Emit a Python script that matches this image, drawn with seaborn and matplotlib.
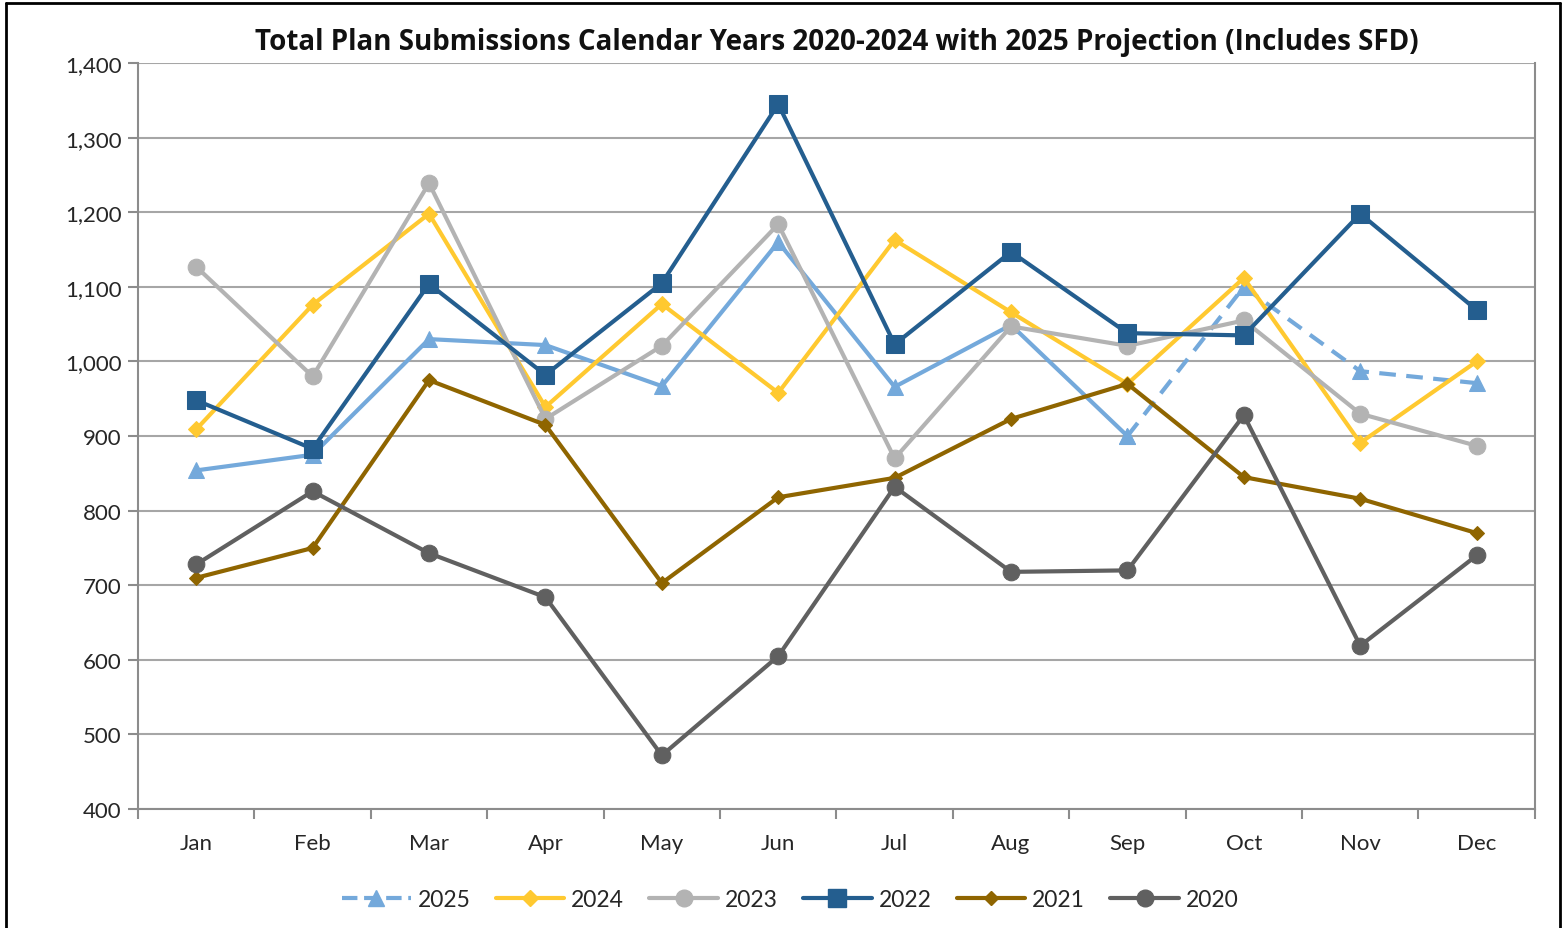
import numpy as np
import pandas as pd
import seaborn as sns
import matplotlib.pyplot as plt
from matplotlib.lines import Line2D

# datos
meses = ['Jan', 'Feb', 'Mar', 'Apr', 'May', 'Jun', 'Jul', 'Aug', 'Sep', 'Oct', 'Nov', 'Dec']
v2025 = [854, 875, 1030, 1022, 967, 1160, 966, 1049, 900, 1100, 987, 971]
v2024 = [909, 1076, 1198, 939, 1077, 958, 1163, 1066, 970, 1112, 891, 1000]
v2023 = [1127, 980, 1239, 923, 1021, 1184, 870, 1047, 1021, 1055, 930, 887]
v2022 = [948, 883, 1104, 982, 1105, 1345, 1023, 1147, 1038, 1035, 1198, 1069]
v2021 = [710, 750, 975, 915, 703, 818, 844, 923, 970, 845, 816, 770]
v2020 = [728, 826, 743, 684, 472, 605, 832, 718, 720, 928, 619, 740]
corte = 8  # ultimo mes real de 2025 (Sep), despues es proyeccion

sns.set_style('white')
plt.rcParams['font.family'] = ['Lato', 'DejaVu Sans']

fig = plt.figure(figsize=(15.63, 9.29), dpi=100)
ax = fig.add_axes([0.0883, 0.128, 0.8937, 0.803])

# estilos por serie: color, marcador, tamanio
estilos = {
    '2025': ('#74A9DB', '^', 11),
    '2024': ('#FFC930', 'D', 8),
    '2023': ('#B3B3B3', 'o', 12),
    '2022': ('#245E8F', 's', 13),
    '2021': ('#8F6500', 'D', 7.5),
    '2020': ('#606060', 'o', 12),
}
series = {'2025': v2025, '2024': v2024, '2023': v2023, '2022': v2022, '2021': v2021, '2020': v2020}

# 2025: parte real (solida) y proyeccion (punteada)
c, m, s = estilos['2025']
df_real = pd.DataFrame({'mes': meses[:corte + 1], 'valor': v2025[:corte + 1]})
df_proy = pd.DataFrame({'mes': meses[corte:], 'valor': v2025[corte:]})
sns.lineplot(data=df_real, x='mes', y='valor', color=c, marker=m, markersize=s,
             markeredgecolor=c, linewidth=3, ax=ax, zorder=3)
sns.lineplot(data=df_proy, x='mes', y='valor', color=c, marker=m, markersize=s,
             markeredgecolor=c, linewidth=3, dashes=[(4, 2.5)], style=[0] * len(df_proy),
             legend=False, ax=ax, zorder=3)

z = 4
for anio in ['2024', '2023', '2022', '2021', '2020']:
    c, m, s = estilos[anio]
    df = pd.DataFrame({'mes': meses, 'valor': series[anio]})
    sns.lineplot(data=df, x='mes', y='valor', color=c, marker=m, markersize=s,
                 markeredgecolor=c, linewidth=3, ax=ax, zorder=z)
    z += 1

ax.set_xlim(-0.5, 11.5)
ax.set_ylim(400, 1400)
ax.set_yticks(range(400, 1401, 100))
ax.set_yticklabels([f'{v:,}' for v in range(400, 1401, 100)])
ax.set_xticks(range(12))
ax.set_xticks(np.arange(-0.5, 12, 1), minor=True)
ax.set_xlabel('')
ax.set_ylabel('')
ax.grid(axis='y', color='#A6A6A6', linewidth=1.5)
ax.set_axisbelow(True)
for lado in ['left', 'bottom', 'right']:
    ax.spines[lado].set_color('#8C8C8C')
    ax.spines[lado].set_linewidth(1.5)
ax.spines['top'].set_visible(False)
ax.tick_params(axis='y', which='major', length=7, width=1.5, color='#8C8C8C',
               labelsize=16, labelcolor='#262626', pad=5, left=True)
ax.tick_params(axis='x', which='major', length=0, labelsize=16, labelcolor='#262626', pad=17)
ax.tick_params(axis='x', which='minor', length=7, width=1.5, color='#8C8C8C', bottom=True)

ax.set_title('Total Plan Submissions Calendar Years 2020-2024 with 2025 Projection (Includes SFD)',
             fontsize=20, fontweight='bold', color='#111111', pad=10,
             family=['Open Sans', 'DejaVu Sans'])

# leyenda
handles = []
for anio in ['2025', '2024', '2023', '2022', '2021', '2020']:
    c, m, s = estilos[anio]
    ls = '--' if anio == '2025' else '-'
    handles.append(Line2D([], [], color=c, marker=m, markersize=s, markeredgecolor=c,
                          linewidth=3, linestyle=ls))
ax.legend(handles, list(series.keys()), loc='upper center', bbox_to_anchor=(0.467, -0.08),
          ncol=6, frameon=False, fontsize=16.5, handlelength=3.0, columnspacing=1.1,
          handletextpad=0.3)

# borde exterior
for (x0, y0, x1, y1) in [(0.004, 0.0, 0.004, 0.996), (0.004, 0.996, 0.998, 0.996),
                         (0.998, 0.996, 0.998, 0.0)]:
    fig.add_artist(Line2D([x0, x1], [y0, y1], color='black', linewidth=2))

fig.savefig('out.png', dpi=100)
